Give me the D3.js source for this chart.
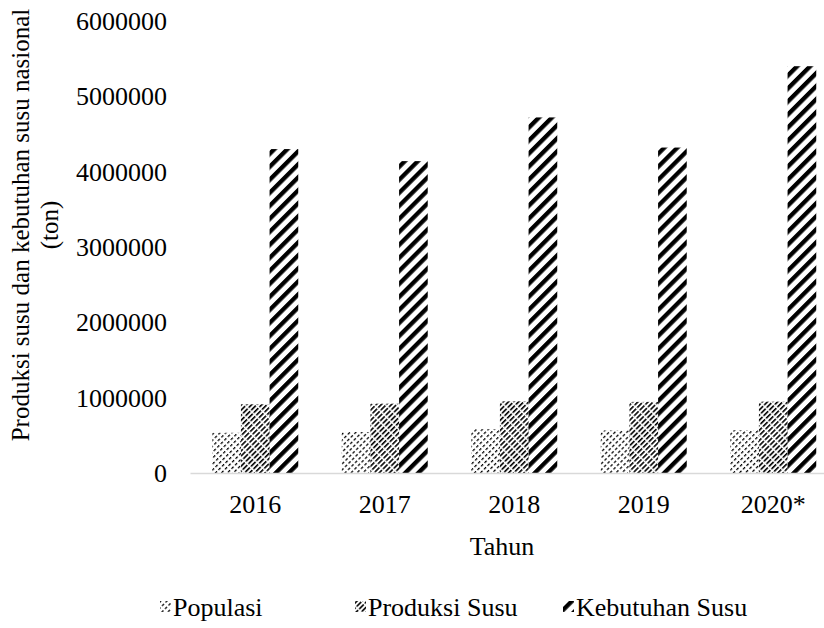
<!DOCTYPE html>
<html>
<head>
<meta charset="utf-8">
<script src="https://cdn.jsdelivr.net/npm/d3@7"></script>
<style>
  body { margin: 0; background: #fff; }
  text { font-family: "Liberation Serif", "Times New Roman", serif; fill: #000; }
</style>
</head>
<body>
<div id="chart"></div>
<script>
var years = ["2016", "2017", "2018", "2019", "2020*"];
var seriesNames = ["Populasi", "Produksi Susu", "Kebutuhan Susu"];
var populasi = [534000, 544000, 582000, 565000, 568000];
var produksi = [912000, 920000, 951000, 944000, 947000];
var kebutuhan = [4300000, 4140000, 4720000, 4320000, 5400000];
var yTicks = [0, 1000000, 2000000, 3000000, 4000000, 5000000, 6000000];
var patternIds = ["pat-pop", "pat-prod", "pat-keb"];

var width = 824, height = 628;
var fontSize = 26;

var svg = d3.select("#chart").append("svg")
    .attr("width", width)
    .attr("height", height);

/*-------------------- fill patterns -------------------*/
// diagonal stripes: a vertical dash in a tile, rotated 45deg into "/"
var defs = svg.append("defs");
function stripePattern(id, spacing, len, thick, dash) {
    var p = defs.append("pattern").attr("id", id)
        .attr("patternUnits", "userSpaceOnUse")
        .attr("width", spacing).attr("height", len)
        .attr("patternTransform", "rotate(45)");
    p.append("rect")
        .attr("x", 0).attr("y", 0)
        .attr("width", thick).attr("height", dash)
        .attr("fill", "#000");
}
stripePattern("pat-pop", 4.2, 5, 1.3, 2.8);
stripePattern("pat-prod", 3.6, 8, 1.6, 6.5);
stripePattern("pat-keb", 9.2, 10, 4.3, 10);

/*-------------------- scales -------------------*/
var x0 = d3.scaleBand().domain(years).range([190.5, 838]).paddingInner(0.336).paddingOuter(0.168);
var x1 = d3.scaleBand().domain(seriesNames).range([0, x0.bandwidth()]);
var y = d3.scaleLinear().domain([0, 6000000]).range([473, 21]);

var tableData = years.map(function(yr, i) {
    return {year: yr, values: [populasi[i], produksi[i], kebutuhan[i]]};
});

/*-------------------- bars -------------------*/
var groups = svg.selectAll("g.grp").data(tableData).enter()
    .append("g").attr("class", "grp")
    .attr("transform", d => "translate(" + x0(d.year) + ",0)");

groups.selectAll("rect")
    .data(d => d.values.map((v, i) => ({name: seriesNames[i], value: v, idx: i})))
    .enter().append("rect")
    .attr("x", d => x1(d.name))
    .attr("y", d => y(d.value))
    .attr("width", x1.bandwidth())
    .attr("height", d => y(0) - y(d.value))
    .attr("fill", d => "url(#" + patternIds[d.idx] + ")");

/*-------------------- axes -------------------*/
svg.append("line")
    .attr("x1", 190.5).attr("x2", 838)
    .attr("y1", y(0) + 0.5).attr("y2", y(0) + 0.5)
    .attr("stroke", "#d9d9d9").attr("stroke-width", 1.5);

svg.selectAll("text.ytick").data(yTicks).enter()
    .append("text").attr("class", "ytick")
    .attr("x", 167)
    .attr("y", d => y(d))
    .attr("dy", "0.35em")
    .attr("text-anchor", "end")
    .style("font-size", fontSize + "px")
    .text(d => d);

svg.selectAll("text.xtick").data(years).enter()
    .append("text").attr("class", "xtick")
    .attr("x", d => x0(d) + x0.bandwidth() / 2)
    .attr("y", 513)
    .attr("text-anchor", "middle")
    .style("font-size", fontSize + "px")
    .text(d => d);

svg.append("text")
    .attr("x", 502).attr("y", 555)
    .attr("text-anchor", "middle")
    .style("font-size", fontSize + "px")
    .text("Tahun");

var yTitle = svg.append("text")
    .attr("transform", "translate(20,225) rotate(-90)")
    .attr("text-anchor", "middle")
    .style("font-size", "25px");
yTitle.append("tspan").attr("x", 0).attr("dy", "0.35em").text("Produksi susu dan kebutuhan susu nasional");
yTitle.append("tspan").attr("x", 0).attr("dy", "1.15em").text("(ton)");

/*-------------------- legend -------------------*/
var legendX = [160, 355, 563];
var legend = svg.selectAll("g.leg").data(seriesNames).enter()
    .append("g").attr("class", "leg")
    .attr("transform", (d, i) => "translate(" + legendX[i] + ",607)");
legend.append("rect")
    .attr("x", 0).attr("y", -6)
    .attr("width", 11).attr("height", 11)
    .attr("fill", (d, i) => "url(#" + patternIds[i] + ")");
legend.append("text")
    .attr("x", 13).attr("y", 0).attr("dy", "0.35em")
    .style("font-size", fontSize + "px")
    .text(d => d);
</script>
</body>
</html>
